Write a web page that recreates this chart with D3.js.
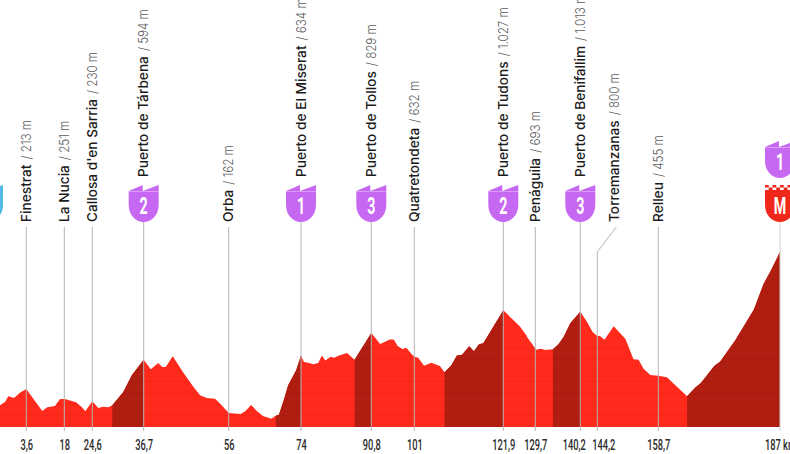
<!DOCTYPE html>
<html>
<head>
<meta charset="utf-8">
<script src="https://cdn.jsdelivr.net/npm/d3@7"></script>
<style>
  html, body { margin: 0; padding: 0; background: #fff; overflow: hidden; }
  svg { display: block; }
  .tick text { font-family: Roboto, sans-serif; }
  .place { font-family: Inter, sans-serif; font-size: 13.7px; font-weight: 500; fill: #1c1c1c; }
  .place-elev { font-family: Inter, sans-serif; font-size: 13.5px; font-weight: 300; fill: #5c5c5c; }
</style>
</head>
<body>
<div id="chart"></div>
<script>
// ===== DATA =====
const profileKm = [0,1.13,1.6,1.91,2.44,3,3.6,6.25,9.66,11.56,14.46,16.36,18,18.16,20.75,22.09,22.95,24.6,26,27.2,28.4,29.3,31.9,33.9,36.7,38.3,40,40.9,41.7,43.3,45.6,48,49.5,51,52.9,54.4,56,59,60.1,61.6,63,64.5,66.6,67.7,68.5,69.7,70.8,72.8,74,74.7,75.7,76.9,78.1,79,79.8,81.1,81.9,83.1,85,86.8,90.8,92.9,95.2,96.1,97.1,98.2,99.1,100.3,101,101.9,103.3,105,107,108.1,109.7,111,112.2,113.9,115,116.2,117.2,121.9,125.9,127.5,127.7,129.9,131,132,133.8,135.1,136.3,137.9,140.2,141.8,143.1,144.1,144.9,145.9,148.1,150.9,152.8,154,155.2,156.8,158.7,160.7,162.3,165.4,167.3,168.6,171.7,173.1,176.6,180.9,183.2,184.7,187];
const profileElev = [150,191,220,270,255,302,335,250,141,173,185,247,247,247,217,176,138,226,167,179,173,191,308,455,593,508,564,529,529,623,485,352,279,256,250,191,123,115,138,194,141,97,73,100,109,235,367,499,631,573,567,552,564,629,587,620,611,629,652,593,828,731,770,770,711,687,699,646,620,611,540,567,537,482,543,631,637,711,667,728,737,1028,887,808,793,681,690,678,684,728,793,916,1016,925,837,805,799,769,887,775,596,593,514,458,452,438,382,270,347,388,537,576,764,1034,1263,1366,1542];

// climbs drawn in the dark red
const climbStart = [29.3,67.7,86.8,108.1,133.8,165.4];
const climbEnd   = [36.7,74,90.8,121.9,140.2,187];

// km markers
const tickKm     = [3.6,18,24.6,36.7,56,74,90.8,101,121.9,129.7,140.2,144.2,158.7,187];
const tickLabels = ["3,6","18","24,6","36,7","56","74","90,8","101","121,9","129,7","140,2","144,2","158,7","187 km"];

// places
const placeKm   = [3.6,18,24.6,36.7,56,74,90.8,101,121.9,129.7,140.2,144.2,158.7];
const placeName = ["Finestrat","La Nucia","Callosa d'en Sarria","Puerto de Tárbena","Orba","Puerto de El Miserat","Puerto de Tollos","Quatretondeta","Puerto de Tudons","Penáguila","Puerto de Benifallim","Torremanzanas","Relleu"];
const placeElev = ["213 m","251 m","230 m","594 m","162 m","634 m","829 m","632 m","1.027 m","693 m","1.013 m","800 m","455 m"];
const placeCat  = ["","","","2","","1","3","","2","","3","",""];

// ===== SCALES =====
const width = 790, height = 454;
const x = d3.scaleLinear()
  .domain([0].concat(tickKm))
  .range([-12,26.3,64.3,92.3,143.7,228.7,301,371.3,414.3,503.3,535.3,580.3,597.3,658.3,780]);
const y = d3.scaleLinear().domain([0, 1000]).range([427, 313.5]);

const svg = d3.select("#chart").append("svg")
  .attr("width", width)
  .attr("height", height);

const points = profileKm.map((km, i) => ({ km: km, elev: profileElev[i] }));
const area = d3.area().x(d => x(d.km)).y0(y(0)).y1(d => y(d.elev));

// ===== PROFILE =====
svg.append("clipPath").attr("id", "profile-clip")
  .append("path").attr("d", area(points));

svg.append("path").attr("d", area(points)).attr("fill", "#ff2a1c");

climbStart.forEach((start, i) => {
  const part = points.filter(d => d.km >= start && d.km <= climbEnd[i]);
  svg.append("path").attr("d", area(part)).attr("fill", "#b01d11");
});

// faint altitude stripes
svg.append("g").attr("clip-path", "url(#profile-clip)")
  .selectAll("line")
  .data(d3.range(100, 1600, 100))
  .enter()
  .append("line")
  .attr("x1", 0)
  .attr("x2", width)
  .attr("y1", d => y(d))
  .attr("y2", d => y(d))
  .attr("stroke", "#7a1208")
  .attr("stroke-opacity", 0.14)
  .attr("stroke-width", 0.6);

// ===== STEMS =====
const stemBottom = 431;
const stems = svg.append("g").attr("fill", "none").attr("stroke", "#b4b4b4").attr("stroke-width", 1);

placeKm.forEach((km, i) => {
  const top = placeCat[i] ? 222 : 227;
  if (placeName[i] === "Torremanzanas") {
    // leader goes up and sideways to clear the Benifallim badge
    stems.append("path").attr("d", d3.line()([[x(km), stemBottom], [x(km), 252], [x(km) + 19, 227]]));
  } else {
    stems.append("line")
      .attr("x1", x(km)).attr("x2", x(km))
      .attr("y1", stemBottom).attr("y2", top);
  }
});
stems.append("line")
  .attr("x1", x(187)).attr("x2", x(187))
  .attr("y1", stemBottom).attr("y2", 222)
  .attr("stroke", "#d0d0d0");

// ===== KM AXIS =====
const axis = svg.append("g")
  .attr("transform", `translate(0,${y(0)})`)
  .call(d3.axisBottom(x)
    .tickValues(tickKm)
    .tickFormat((d, i) => tickLabels[i])
    .tickSize(0)
    .tickPadding(12));
axis.select(".domain").remove();
// no condensed face is installed, so squeeze the text horizontally.
// 140,2 and 144,2 sit too close together and are pushed apart
axis.selectAll("text")
  .attr("fill", "#2b2b2b")
  .attr("font-weight", 500)
  .attr("transform", d => {
    const nudge = d === 140.2 ? -6.5 : d === 144.2 ? 6 : 0;
    return `translate(${nudge},0) scale(0.62,1)`;
  })
  .style("font-size", "15px");

// ===== PLACE LABELS =====
placeName.forEach((name, i) => {
  const shift = name === "Torremanzanas" ? 17 : 0;
  const frame = `translate(${x(placeKm[i]) + shift + 4.5},${placeCat[i] ? 177 : 222}) rotate(-90)`;
  const label = svg.append("text")
    .attr("class", "place")
    .attr("transform", frame)
    .text(name);
  const nameLength = label.node().getComputedTextLength();
  svg.append("text")
    .attr("class", "place-elev")
    .attr("transform", `${frame} translate(${nameLength + 5},0) scale(0.86,1)`)
    .text("/ " + placeElev[i]);
});

// ===== BADGES =====
function shieldPath(cx, top) {
  const l = cx - 15, r = cx + 15, b = top + 37;
  return `M${l},${top + 6} L${cx - 1},${top} L${cx - 1},${top + 6} L${r},${top} L${r},${top + 20}` +
    ` C${r},${top + 30} ${cx + 8},${b} ${cx},${b} C${cx - 8},${b} ${l},${top + 30} ${l},${top + 20} Z`;
}

function badgeText(cx, baseline, label) {
  svg.append("text")
    .attr("transform", `translate(${cx},${baseline}) scale(0.62,1)`)
    .attr("text-anchor", "middle")
    .attr("fill", "#fff")
    .attr("font-family", "Roboto, sans-serif")
    .attr("font-weight", 700)
    .attr("font-size", 23)
    .text(label);
}

function drawBadge(cx, top, color, label) {
  svg.append("path").attr("d", shieldPath(cx, top)).attr("fill", color);
  svg.append("line")
    .attr("x1", cx - 15).attr("x2", cx + 15)
    .attr("y1", top + 6.5).attr("y2", top + 6.5)
    .attr("stroke", "#fff").attr("stroke-opacity", 0.5).attr("stroke-width", 0.7);
  badgeText(cx, top + 29, label);
}

placeCat.forEach((cat, i) => {
  if (cat) drawBadge(x(placeKm[i]), 185, "#c768f2", cat);
});

// start badge, mostly off the page
svg.append("path").attr("d", shieldPath(x(0), 185)).attr("fill", "#52b9e6");

// finish: category 1 above the red finish shield
drawBadge(x(187), 141, "#c768f2", "1");
svg.append("path")
  .attr("d", `M${x(187) - 15},190 H${x(187) + 15} V205 C${x(187) + 15},215 ${x(187) + 8},222 ${x(187)},222 C${x(187) - 8},222 ${x(187) - 15},215 ${x(187) - 15},205 Z`)
  .attr("fill", "#f0281c");
const checks = svg.append("g").attr("fill", "#f0281c");
d3.range(8).forEach(c => {
  d3.range(2).forEach(r => {
    if ((c + r) % 2 === 0) {
      checks.append("rect")
        .attr("x", x(187) - 15 + c * 3.75)
        .attr("y", 185 + r * 2.5)
        .attr("width", 3.75)
        .attr("height", 2.5);
    }
  });
});
badgeText(x(187), 214, "M");
</script>
</body>
</html>
